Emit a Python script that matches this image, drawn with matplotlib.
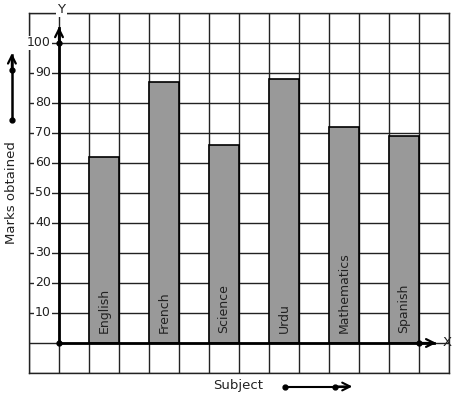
import matplotlib
matplotlib.use('Agg')
import matplotlib.pyplot as plt

subjects = ['English', 'French', 'Science', 'Urdu', 'Mathematics', 'Spanish']
marks = [62, 87, 66, 88, 72, 69]
y_ticks = [10, 20, 30, 40, 50, 60, 70, 80, 90, 100]

W, H = 457, 399
fig = plt.figure(figsize=(W / 100, H / 100), dpi=100)
# grid spans px x 29..449, y 13..373 -> data x -1..13, y -10..110
ax = fig.add_axes([29 / W, (H - 373) / H, 420 / W, 360 / H])
ax.set_xlim(-1, 13)
ax.set_ylim(-10, 110)
ax.set_xticks(range(-1, 14))
ax.set_yticks(range(-10, 111, 10))
ax.tick_params(length=0, labelbottom=False, labelleft=False)
ax.grid(True, color='#222222', linewidth=1.0)
ax.set_axisbelow(True)
for s in ax.spines.values():
    s.set_color('#222222')
    s.set_linewidth(1.0)

# bars
xs = [1.5 + 2 * i for i in range(len(subjects))]
ax.bar(xs, marks, width=1.0, color='#999999', edgecolor='black', linewidth=1.2, zorder=3)
for x, name in zip(xs, subjects):
    ax.text(x, 3.3, name, rotation=90, ha='center', va='bottom', fontsize=9, color='#222222', zorder=4)

# axes with arrows
ax.plot([0, 0], [0, 105], color='black', lw=2, zorder=5, clip_on=False)
ax.annotate('', xy=(0, 106.3), xytext=(0, 100), arrowprops=dict(arrowstyle='->', lw=1.6, color='black', mutation_scale=14), zorder=6, annotation_clip=False)
ax.plot([0, 12.5], [0, 0], color='black', lw=2, zorder=5, clip_on=False)
ax.annotate('', xy=(12.67, 0), xytext=(12, 0), arrowprops=dict(arrowstyle='->', lw=1.6, color='black', mutation_scale=14), zorder=6, annotation_clip=False)
ax.plot([0, 12, 0], [0, 0, 100], 'o', color='black', ms=3.5, zorder=7, clip_on=False)
ax.text(12.8, 0, 'X', ha='left', va='center', fontsize=9.5, color='#222222', clip_on=False)
ax.text(0.07, 111.2, 'Y', ha='center', va='center', fontsize=9.5, color='#222222', zorder=8,
        bbox=dict(facecolor='white', edgecolor='none', pad=1), clip_on=False)

# tick labels with white background
for v in y_ticks:
    ax.text(-0.27, v, str(v), ha='right', va='center', fontsize=9, color='#222222', zorder=4,
            bbox=dict(facecolor='white', edgecolor='none', pad=0.5))

# y label with arrow
ax.text(-1.57, 50, 'Marks obtained', rotation=90, ha='center', va='center', fontsize=9.5, color='#222222', clip_on=False)
ax.plot([-1.57, -1.57], [74.3, 96], color='black', lw=1.8, clip_on=False)
ax.annotate('', xy=(-1.57, 97.5), xytext=(-1.57, 90), arrowprops=dict(arrowstyle='->', lw=1.6, color='black', mutation_scale=14), annotation_clip=False)
ax.plot([-1.57, -1.57], [74.3, 91], 'o', color='black', ms=3.5, clip_on=False)

# x label with arrow
ax.text(5.97, -14, 'Subject', ha='center', va='center', fontsize=9.5, color='#222222', clip_on=False)
ax.plot([7.53, 9.6], [-14.5, -14.5], color='black', lw=1.5, clip_on=False)
ax.annotate('', xy=(9.87, -14.5), xytext=(9.2, -14.5), arrowprops=dict(arrowstyle='->', lw=1.5, color='black', mutation_scale=14), annotation_clip=False)
ax.plot([7.53, 9.2], [-14.5, -14.5], 'o', color='black', ms=3.5, clip_on=False)

fig.savefig('out.png', dpi=100)
